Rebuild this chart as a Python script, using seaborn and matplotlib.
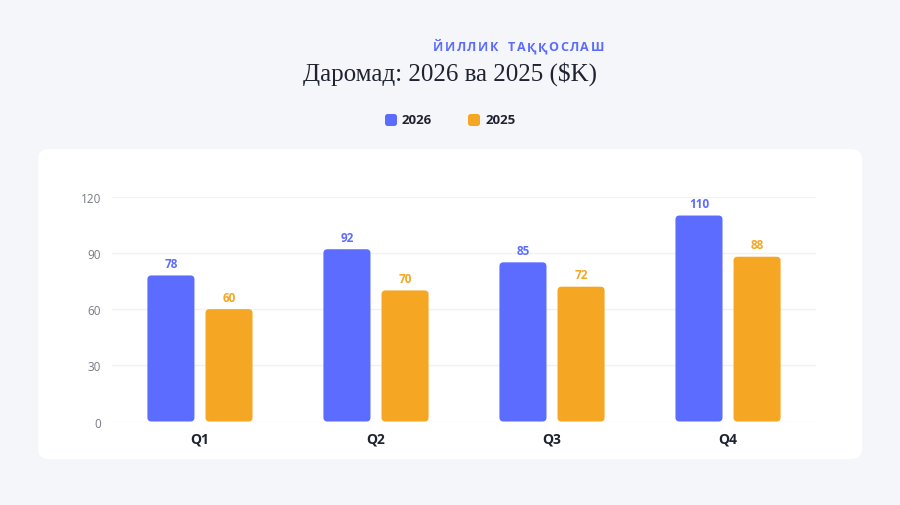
import matplotlib
matplotlib.use("Agg")
import matplotlib.pyplot as plt
from matplotlib.patches import FancyBboxPatch
import seaborn as sns
import pandas as pd

quarters = ["Q1", "Q2", "Q3", "Q4"]
rev_2026 = [78, 92, 85, 110]
rev_2025 = [60, 70, 72, 88]
series_names = ["2026", "2025"]
y_ticks = [0, 30, 60, 90, 120]
title = "Даромад: 2026 ва 2025 ($K)"
subtitle = "ЙИЛЛИК ТАҚҚОСЛАШ"

BLUE = "#5b6cff"
ORANGE = "#f5a623"
BG = "#f5f6fa"
SANS = ["Open Sans", "Noto Sans", "DejaVu Sans"]

df = pd.DataFrame({
    "quarter": quarters * 2,
    "value": rev_2026 + rev_2025,
    "year": [series_names[0]] * 4 + [series_names[1]] * 4,
})

sns.set_theme(style="white")
plt.rcParams["font.family"] = SANS

fig = plt.figure(figsize=(9, 5.06), dpi=100)
fig.patch.set_facecolor(BG)

# white card
card = FancyBboxPatch((0.0422, 0.0909), 0.9156, 0.6126,
                      boxstyle="round,pad=0,rounding_size=0.012",
                      transform=fig.transFigure, facecolor="white",
                      edgecolor="none", mutation_aspect=900 / 506, zorder=0)
fig.patches.append(card)

ax = fig.add_axes([0.1244, 0.1650, 0.7823, 0.4441])
ax.set_zorder(3)
ax.set_facecolor("none")

sns.barplot(data=df, x="quarter", y="value", hue="year", order=quarters,
            hue_order=series_names, palette=[BLUE, ORANGE], width=0.66,
            gap=0.19, ax=ax, legend=False, saturation=1, zorder=3)

ax.set_xlim(-0.5, 3.5)
ax.set_ylim(0, 120)

# rounded bars
ppx = 704 / 4.0   # px per x unit
ppy = 224.7 / 120  # px per y unit
aspect = ppx / ppy
r = 4 / ppx
label_colors = [BLUE, ORANGE]
for cont, col in zip(ax.containers, label_colors):
    for p in cont.patches:
        x, y = p.get_x(), p.get_y()
        w, h = p.get_width(), p.get_height()
        fb = FancyBboxPatch((x, y), w, h,
                            boxstyle=f"round,pad=0,rounding_size={r}",
                            mutation_aspect=aspect, facecolor=col,
                            edgecolor="none", zorder=3)
        ax.add_patch(fb)
        p.set_visible(False)
    ax.bar_label(cont, padding=4, color=col, fontsize=8.5,
                 fontweight="bold", clip_on=False)

ax.set_yticks(y_ticks)
ax.set_yticklabels([str(t) for t in y_ticks], color="#777a83", fontsize=8.5)
ax.tick_params(axis="y", length=0, pad=8)
ax.tick_params(axis="x", length=0, pad=7)
for lbl in ax.get_xticklabels():
    lbl.set_fontweight("bold")
    lbl.set_fontsize(10)
    lbl.set_color("#1f2230")
ax.grid(axis="y", color="#f1f2f6", linewidth=1, zorder=0)
ax.set_axisbelow(True)
for s in ax.spines.values():
    s.set_visible(False)
ax.set_xlabel("")
ax.set_ylabel("")

# title
fig.text(0.5, 1 - 74 / 506, title, ha="center", va="center",
         color="#1f2230", fontsize=18,
         fontfamily=["Liberation Serif", "DejaVu Serif"])

# letter-spaced subtitle: spans approx x 433..604 px
renderer = fig.canvas.get_renderer()
chars = list(subtitle)
widths = []
for c in chars:
    t = fig.text(0, 0, c if c != " " else "n", fontsize=9, fontweight="bold")
    bb = t.get_window_extent(renderer)
    widths.append(bb.width if c != " " else bb.width * 0.8)
    t.remove()
left_px, right_px = 433, 604
spacing = (right_px - left_px - sum(widths)) / (len(chars) - 1)
xpos = left_px
for c, w in zip(chars, widths):
    if c != " ":
        fig.text(xpos / 900, 1 - 47.5 / 506, c, ha="left", va="center",
                 color=BLUE, fontsize=9, fontweight="bold")
    xpos += w + spacing

# legend
for (sx, tx, name, col) in [(385, 402, series_names[0], BLUE),
                            (468, 486, series_names[1], ORANGE)]:
    sq = FancyBboxPatch((sx / 900, 1 - 127 / 506), 12 / 900, 12 / 506,
                        boxstyle="round,pad=0,rounding_size=0.003",
                        mutation_aspect=900 / 506,
                        transform=fig.transFigure, facecolor=col,
                        edgecolor="none")
    fig.patches.append(sq)
    fig.text(tx / 900, 1 - 121 / 506, name, ha="left", va="center",
             fontsize=9.5, fontweight="bold", color="#1f2230")

fig.savefig("out.png", dpi=100, facecolor=BG)
